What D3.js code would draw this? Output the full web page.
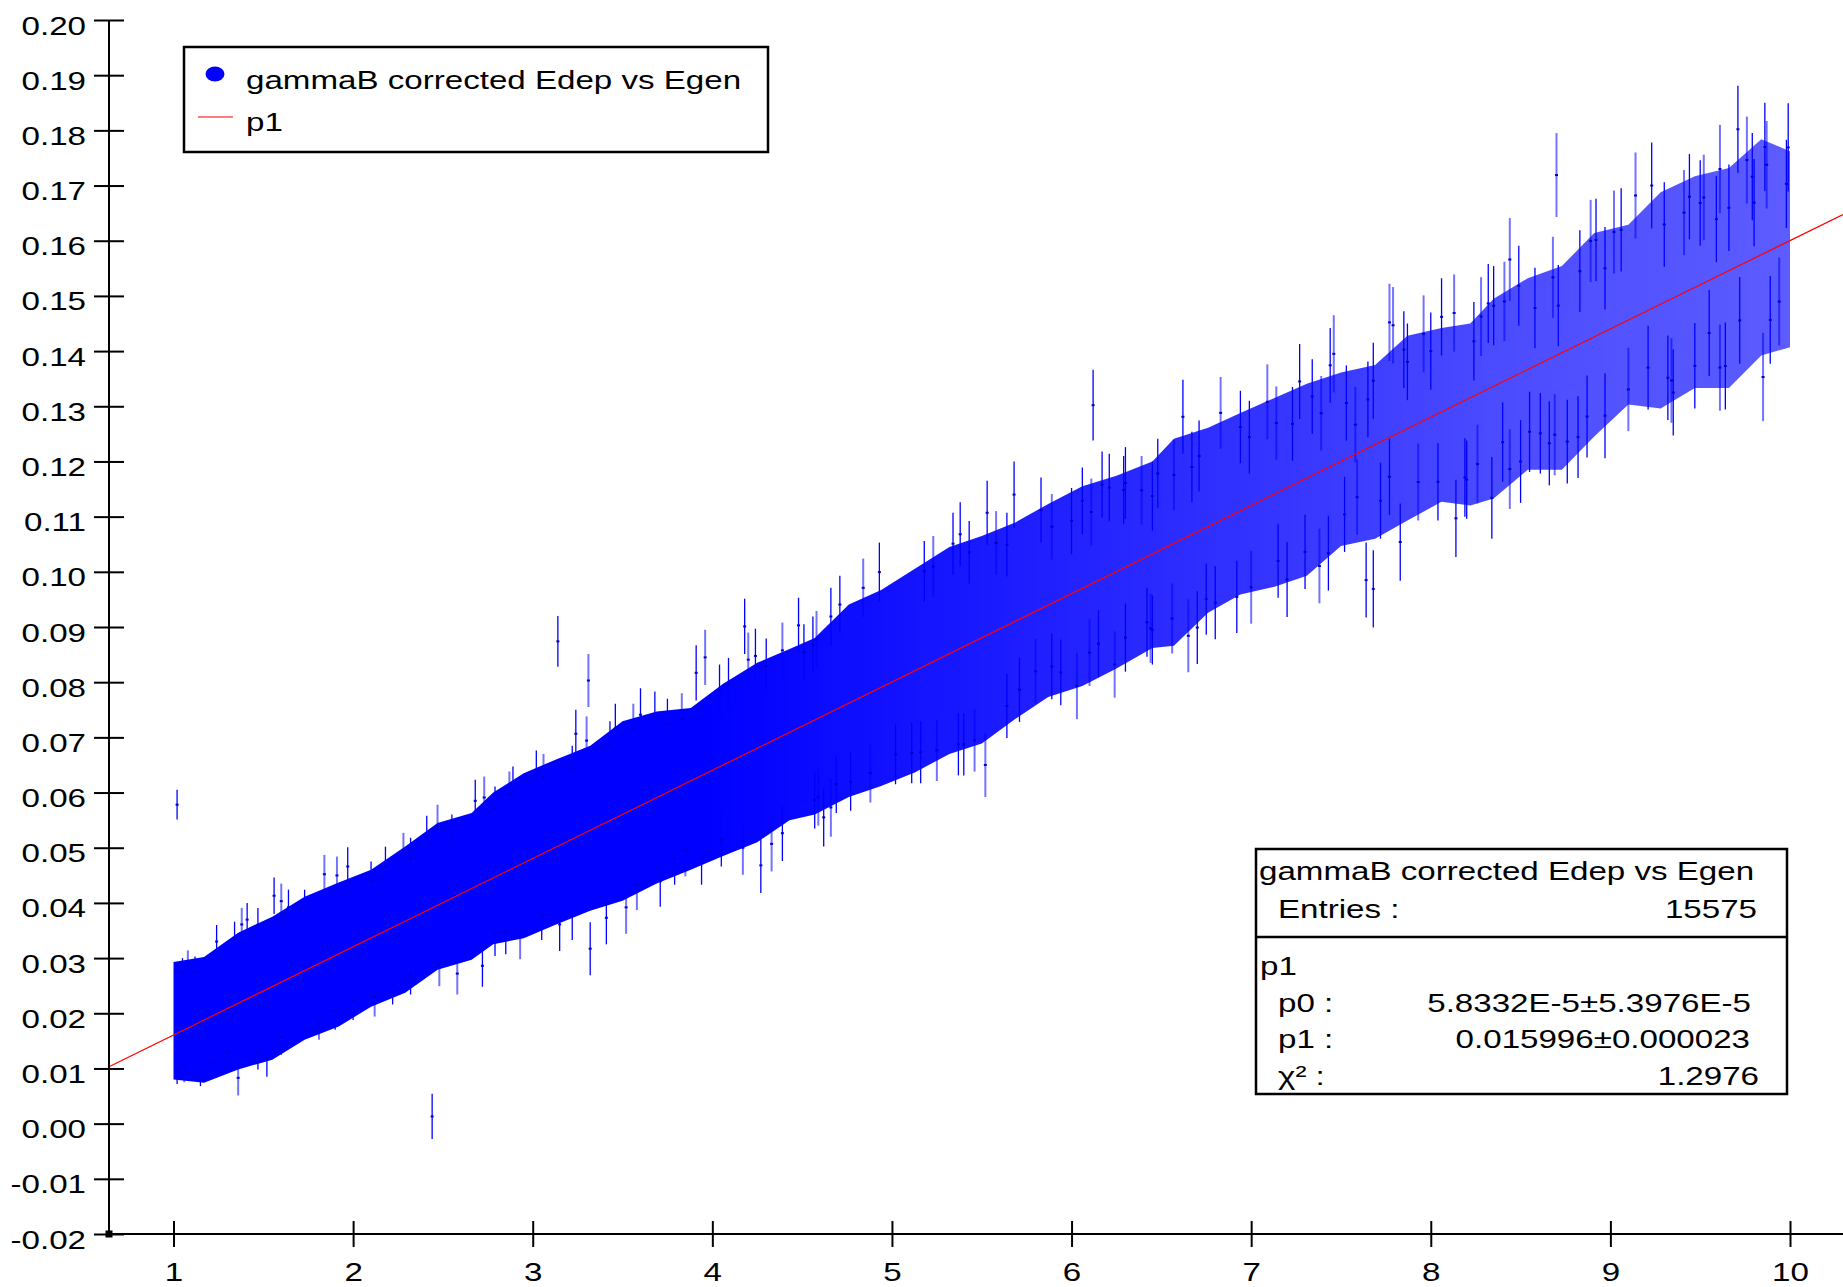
<!DOCTYPE html>
<html>
<head>
<meta charset="utf-8">
<script src="https://cdn.jsdelivr.net/npm/d3@7.9.0/dist/d3.min.js"></script>
<style>
  html, body { margin: 0; padding: 0; background: #fff; }
  svg text { font-family: "Liberation Sans", Arial, sans-serif; font-size: 26.5px; fill: #000; }
</style>
</head>
<body>
<svg id="plot" width="1843" height="1287"></svg>
<script>
// ---- data ----
// outline of the dense cloud of points (x, lower edge, upper edge)
const envX  = [1.00, 1.17, 1.36, 1.55, 1.73, 1.92, 2.10, 2.29, 2.47, 2.66,
               2.78, 2.95, 3.13, 3.32, 3.50, 3.69, 3.88, 4.06, 4.25, 4.43,
               4.57, 4.76, 4.94, 5.13, 5.32, 5.50, 5.69, 5.87, 6.06, 6.25,
               6.45, 6.57, 6.76, 6.94, 7.13, 7.31, 7.50, 7.69, 7.87, 8.06,
               8.22, 8.35, 8.54, 8.73, 8.91, 9.10, 9.28, 9.47, 9.66, 9.84, 10.00];
const envLo = [0.0080, 0.0074, 0.0098, 0.0116, 0.0152, 0.0176, 0.0212, 0.0237, 0.0279, 0.0297,
               0.0325, 0.0336, 0.0361, 0.0386, 0.0404, 0.0435, 0.0460, 0.0485, 0.0510, 0.0550,
               0.0560, 0.0592, 0.0612, 0.0637, 0.0670, 0.0689, 0.0734, 0.0773, 0.0793, 0.0825,
               0.0862, 0.0866, 0.0926, 0.0959, 0.0973, 0.0993, 0.1047, 0.1060, 0.1093, 0.1127,
               0.1120, 0.1133, 0.1185, 0.1185, 0.1245, 0.1303, 0.1296, 0.1333, 0.1333, 0.1392, 0.1407];
const envHi = [0.0293, 0.0302, 0.0346, 0.0375, 0.0411, 0.0437, 0.0460, 0.0502, 0.0545, 0.0563,
               0.0600, 0.0635, 0.0660, 0.0685, 0.0729, 0.0747, 0.0753, 0.0797, 0.0835, 0.0860,
               0.0880, 0.0941, 0.0967, 0.1006, 0.1045, 0.1065, 0.1090, 0.1123, 0.1155, 0.1174,
               0.1200, 0.1241, 0.1261, 0.1288, 0.1315, 0.1341, 0.1361, 0.1375, 0.1428, 0.1442,
               0.1450, 0.1495, 0.1532, 0.1554, 0.1614, 0.1629, 0.1688, 0.1717, 0.1732, 0.1784, 0.1762];

// typical half length of an error bar along x
const errX = [1, 2, 3, 4, 5, 6, 7, 8, 9, 10];
const errV = [0.0027, 0.0035, 0.0042, 0.0048, 0.0054, 0.0060, 0.0066, 0.0070, 0.0075, 0.0080];

// error bars poking out of the top of the cloud (x, top end)
const upX   = [1.05, 1.08, 1.12, 1.34, 1.38, 1.41, 1.47, 1.60, 1.64, 1.73, 1.91, 2.10, 2.18, 2.28, 2.32,
               2.41, 2.47, 2.55, 2.79, 2.87, 2.89, 3.02, 3.06, 3.22, 3.24, 3.30, 3.43, 3.46, 3.56, 3.68,
               3.75, 3.83, 4.04, 4.09, 4.20, 4.24, 4.30, 4.39, 4.51, 4.56, 4.58, 4.66, 4.71, 4.84, 4.93,
               5.18, 5.23, 5.34, 5.43, 5.58, 5.64, 5.83, 5.89, 6.00, 6.06, 6.11, 6.21, 6.29, 6.39, 6.45,
               6.48, 6.57, 6.67, 6.71, 6.83, 6.94, 6.99, 7.14, 7.23, 7.34, 7.39, 7.44, 7.53, 7.58, 7.65,
               7.68, 7.79, 7.85, 7.87, 7.96, 8.00, 8.24, 8.28, 8.32, 8.35, 8.41, 8.49, 8.58, 8.68, 8.71,
               8.83, 8.89, 8.92, 8.97, 9.02, 9.06, 9.30, 9.41, 9.44, 9.50, 9.52, 9.59, 9.66, 9.76, 9.79,
               9.80, 9.87, 9.98];
const upEnd = [0.0300, 0.0314, 0.0303, 0.0366, 0.0391, 0.0400, 0.0391, 0.0435, 0.0424, 0.0424, 0.0484, 0.0475, 0.0502, 0.0527, 0.0518,
               0.0558, 0.0578, 0.0560, 0.0611, 0.0638, 0.0647, 0.0676, 0.0670, 0.0685, 0.0750, 0.0738, 0.0729, 0.0761, 0.0761, 0.0783,
               0.0770, 0.0780, 0.0832, 0.0844, 0.0890, 0.0897, 0.0879, 0.0908, 0.0905, 0.0919, 0.0929, 0.0971, 0.0993, 0.1024, 0.1053,
               0.1056, 0.1065, 0.1107, 0.1092, 0.1110, 0.1107, 0.1171, 0.1141, 0.1152, 0.1189, 0.1169, 0.1214, 0.1210, 0.1210, 0.1200,
               0.1241, 0.1239, 0.1254, 0.1274, 0.1353, 0.1328, 0.1310, 0.1336, 0.1335, 0.1385, 0.1355, 0.1442, 0.1374, 0.1335, 0.1381,
               0.1415, 0.1516, 0.1472, 0.1450, 0.1501, 0.1470, 0.1489, 0.1534, 0.1558, 0.1554, 0.1562, 0.1591, 0.1551, 0.1607, 0.1556,
               0.1619, 0.1674, 0.1676, 0.1625, 0.1691, 0.1695, 0.1706, 0.1728, 0.1757, 0.1746, 0.1756, 0.1717, 0.1738, 0.1825, 0.1795,
               0.1748, 0.1817, 0.1783];

// error bars poking out of the bottom of the cloud (x, bottom end)
const downX   = [1.02, 1.06, 1.15, 1.23, 1.30, 1.47, 1.60, 1.81, 1.90, 2.00, 2.12, 2.22, 2.32, 2.48,
                 2.79, 2.85, 2.93, 3.05, 3.22, 3.58, 3.71, 3.79, 3.85, 3.94, 4.05, 4.17, 4.39, 4.57,
                 4.59, 4.69, 4.77, 4.88, 5.02, 5.11, 5.25, 5.37, 5.40, 5.46, 5.64, 5.71, 5.80, 5.89, 5.94,
                 6.10, 6.15, 6.30, 6.44, 6.42, 6.45, 6.56, 6.75, 6.92, 7.00, 7.15, 7.30, 7.38, 7.43, 7.52,
                 7.59, 7.72, 7.77, 7.93, 8.04, 8.19, 8.26, 8.20, 8.40, 8.44, 8.55, 8.61, 8.69, 8.82, 8.87,
                 9.10, 9.21, 9.32, 9.34, 9.47, 9.55, 9.61, 9.72, 9.89, 9.94];
const downEnd = [0.0072, 0.0075, 0.0068, 0.0083, 0.0101, 0.0098, 0.0125, 0.0152, 0.0170, 0.0188, 0.0194, 0.0216, 0.0234, 0.0249,
                 0.0304, 0.0307, 0.0298, 0.0333, 0.0333, 0.0387, 0.0393, 0.0433, 0.0448, 0.0433, 0.0466, 0.0451, 0.0476, 0.0535,
                 0.0540, 0.0563, 0.0567, 0.0582, 0.0615, 0.0617, 0.0621, 0.0631, 0.0631, 0.0638, 0.0699, 0.0728, 0.0761, 0.0769, 0.0758,
                 0.0793, 0.0809, 0.0819, 0.0835, 0.0846, 0.0832, 0.0852, 0.0886, 0.0889, 0.0906, 0.0953, 0.0969, 0.0943, 0.0966, 0.1036,
                 0.1067, 0.1060, 0.1103, 0.1093, 0.1093, 0.1100, 0.1124, 0.1096, 0.1163, 0.1114, 0.1181, 0.1178, 0.1175, 0.1170, 0.1207,
                 0.1255, 0.1294, 0.1275, 0.1270, 0.1296, 0.1355, 0.1292, 0.1377, 0.1377, 0.1410];

// single points far from the cloud (x, y, error)
const ptX   = [1.02, 1.24, 1.36, 1.52, 1.56, 1.84, 1.97, 2.44, 2.58, 2.68, 2.72, 2.73,
               3.14, 3.15, 3.31, 3.32, 3.41, 3.52, 3.60, 3.91, 3.96, 4.18, 4.27, 4.33, 4.48,
               4.62, 4.66, 5.16, 5.38, 5.52, 5.53, 5.68, 6.03, 6.12, 6.17, 6.24, 6.30,
               6.62, 6.65, 6.70, 6.80, 7.09, 7.20, 7.27, 7.46, 7.64, 7.68, 7.77, 7.83,
               8.06, 8.13, 8.14, 8.34, 8.44, 8.50, 8.66, 8.70, 8.76, 8.97, 9.14, 9.23,
               9.35, 9.61, 9.64, 9.71, 9.85, 9.86, 9.99];
const ptY   = [0.0578, 0.0330, 0.0083, 0.0118, 0.0413, 0.0452, 0.0466, 0.0013, 0.0272, 0.0585, 0.0286, 0.0591,
               0.0874, 0.0361, 0.0803, 0.0317, 0.0373, 0.0392, 0.0741, 0.0817, 0.0845, 0.0901, 0.0468, 0.0507, 0.0903,
               0.0555, 0.0573, 0.0673, 0.1068, 0.0650, 0.1107, 0.1140, 0.0793, 0.1302, 0.1158, 0.0832, 0.1161,
               0.1281, 0.0884, 0.0899, 0.0944, 0.1308, 0.0986, 0.1345, 0.1395, 0.0985, 0.0969, 0.1452, 0.1054,
               0.1462, 0.1469, 0.1097, 0.1134, 0.1566, 0.1200, 0.1233, 0.1719, 0.1236, 0.1283, 0.1682, 0.1700,
               0.1325, 0.1730, 0.1373, 0.1802, 0.1353, 0.1770, 0.1769];
const ptErr = [0.0027, 0.0030, 0.0032, 0.0033, 0.0033, 0.0035, 0.0035, 0.0041, 0.0038, 0.0038, 0.0038, 0.0038,
               0.0046, 0.0048, 0.0048, 0.0048, 0.0048, 0.0048, 0.0048, 0.0050, 0.0050, 0.0050, 0.0050, 0.0050, 0.0050,
               0.0053, 0.0053, 0.0056, 0.0058, 0.0058, 0.0058, 0.0060, 0.0060, 0.0064, 0.0060, 0.0060, 0.0065,
               0.0067, 0.0066, 0.0066, 0.0066, 0.0068, 0.0068, 0.0068, 0.0070, 0.0068, 0.0070, 0.0070, 0.0070,
               0.0070, 0.0070, 0.0070, 0.0074, 0.0075, 0.0075, 0.0076, 0.0076, 0.0076, 0.0077, 0.0078, 0.0078,
               0.0078, 0.0080, 0.0079, 0.0079, 0.0080, 0.0080, 0.0080];

// fit p1 : y = p0 + p1 * x
const fitP0 = 5.8332e-5;
const fitP1 = 0.015996;

const xTicks = [1, 2, 3, 4, 5, 6, 7, 8, 9, 10];
const yTicks = [0.20, 0.19, 0.18, 0.17, 0.16, 0.15, 0.14, 0.13, 0.12, 0.11, 0.10,
                0.09, 0.08, 0.07, 0.06, 0.05, 0.04, 0.03, 0.02, 0.01, 0.00, -0.01, -0.02];

const legendLabels = ["gammaB corrected Edep vs Egen", "p1"];
const statsTitle = "gammaB corrected Edep vs Egen";
const statsEntries = ["Entries :", "15575"];
const statsFitName = "p1";
const statsFitRows = [["p0 :", "5.8332E-5\u00b15.3976E-5"],
                      ["p1 :", "0.015996\u00b10.000023"],
                      ["\u03c7\u00b2 :", "1.2976"]];

// ---- drawing ----
const W = 1843, H = 1287;
const axisX = 109, axisY = 1234;
const stretch = 1.25;   // the text in the picture is drawn wide

const x = d3.scaleLinear().domain([1, 10]).range([173.5, 1790]);
const y = d3.scaleLinear().domain([-0.02, 0.20]).range([1234, 20]);
const errAt = d3.scaleLinear().domain(errX).range(errV);
const xMin = x.invert(axisX), xMax = x.invert(W);
const fmt2 = d3.format(".2f");

const svg = d3.select("#plot");
svg.append("rect").attr("width", W).attr("height", H).attr("fill", "#fff");

function wideText(g, str, px, py, anchor) {
  return g.append("text")
    .attr("transform", `translate(${px},${py}) scale(${stretch},1)`)
    .attr("text-anchor", anchor || "start")
    .text(str);
}

// the cloud gets thinner to the right
const defs = svg.append("defs");
const grad = defs.append("linearGradient")
  .attr("id", "cloudFade")
  .attr("gradientUnits", "userSpaceOnUse")
  .attr("x1", x(1)).attr("x2", x(10)).attr("y1", 0).attr("y2", 0);
[[0, 1], [0.33, 1], [0.5, 0.9], [0.67, 0.8], [0.83, 0.7], [1, 0.64]].forEach(([o, a]) => {
  grad.append("stop").attr("offset", o).attr("stop-color", "#0000ff").attr("stop-opacity", a);
});

const cloud = envX.map((d, i) => ({ x: d, lo: envLo[i], hi: envHi[i] }));
svg.append("path")
  .datum(cloud)
  .attr("d", d3.area().x(d => x(d.x)).y0(d => y(d.lo)).y1(d => y(d.hi)))
  .attr("fill", "url(#cloudFade)");

// all error bars as {x, y, e}
const pts = [];
upX.forEach((d, i) => { const e = errAt(d); pts.push({ x: d, y: upEnd[i] - e, e }); });
downX.forEach((d, i) => { const e = errAt(d); pts.push({ x: d, y: downEnd[i] + e, e }); });
ptX.forEach((d, i) => pts.push({ x: d, y: ptY[i], e: ptErr[i] }));

const bars = svg.append("g");
bars.selectAll("line")
  .data(pts)
  .join("line")
  .attr("x1", d => x(d.x)).attr("x2", d => x(d.x))
  .attr("y1", d => y(d.y - d.e)).attr("y2", d => y(d.y + d.e))
  .attr("stroke", "#0000ff")
  .attr("stroke-opacity", (d, i) => i % 3 === 1 ? 0.55 : 1)
  .attr("stroke-width", (d, i) => i % 3 === 1 ? 2 : 1.3);
bars.selectAll("rect")
  .data(pts)
  .join("rect")
  .attr("x", d => x(d.x) - 1.5).attr("y", d => y(d.y) - 1)
  .attr("width", 3).attr("height", 2)
  .attr("fill", "#0000cc");

// fitted line
svg.append("path")
  .datum([xMin, xMax])
  .attr("d", d3.line().x(d => x(d)).y(d => y(fitP0 + fitP1 * d)))
  .attr("stroke", "#ff0000")
  .attr("stroke-width", 1.2)
  .attr("fill", "none");

// y axis
const yAxis = svg.append("g")
  .attr("transform", `translate(${axisX},0)`)
  .call(d3.axisLeft(y).tickValues(yTicks).tickFormat(d => fmt2(d).replace("\u2212", "-")).tickSizeOuter(0));
yAxis.select(".domain").remove();
yAxis.selectAll(".tick line").attr("x1", -15).attr("x2", 15).attr("stroke", "#000").attr("stroke-width", 2);
yAxis.selectAll(".tick text")
  .attr("x", null).attr("dy", null)
  .attr("text-anchor", "end")
  .attr("transform", `translate(-23,14) scale(${stretch},1)`);

// x axis
const xAxis = svg.append("g")
  .attr("transform", `translate(0,${axisY})`)
  .call(d3.axisBottom(x).tickValues(xTicks).tickFormat(d3.format("d")).tickSizeOuter(0));
xAxis.select(".domain").remove();
xAxis.selectAll(".tick line").attr("y1", -13).attr("y2", 13).attr("stroke", "#000").attr("stroke-width", 2);
xAxis.selectAll(".tick text")
  .attr("y", null).attr("dy", null)
  .attr("text-anchor", "middle")
  .attr("transform", `translate(0,47) scale(${stretch},1)`);

svg.append("line")
  .attr("x1", axisX).attr("x2", axisX).attr("y1", y(0.20)).attr("y2", axisY)
  .attr("stroke", "#000").attr("stroke-width", 2);
svg.append("line")
  .attr("x1", axisX).attr("x2", W).attr("y1", axisY).attr("y2", axisY)
  .attr("stroke", "#000").attr("stroke-width", 2);
svg.append("rect")
  .attr("x", axisX - 3.5).attr("y", axisY - 3.5).attr("width", 7).attr("height", 7).attr("fill", "#000");

// legend
const leg = svg.append("g");
leg.append("rect")
  .attr("x", 184).attr("y", 47).attr("width", 584).attr("height", 105)
  .attr("fill", "#fff").attr("stroke", "#000").attr("stroke-width", 2.5);
leg.append("ellipse").attr("cx", 215).attr("cy", 74).attr("rx", 9.5).attr("ry", 7.5).attr("fill", "#0000ff");
wideText(leg, legendLabels[0], 246, 89);
leg.append("line").attr("x1", 198).attr("x2", 233).attr("y1", 117).attr("y2", 117)
  .attr("stroke", "#ff0000").attr("stroke-width", 1.2);
wideText(leg, legendLabels[1], 246, 131);

// statistics box
const st = svg.append("g");
st.append("rect")
  .attr("x", 1256).attr("y", 849).attr("width", 531).attr("height", 245)
  .attr("fill", "#fff").attr("stroke", "#000").attr("stroke-width", 2.5);
st.append("line").attr("x1", 1256).attr("x2", 1787).attr("y1", 937).attr("y2", 937)
  .attr("stroke", "#000").attr("stroke-width", 2.5);
wideText(st, statsTitle, 1259, 880);
wideText(st, statsEntries[0], 1278, 918);
wideText(st, statsEntries[1], 1757, 918, "end");
wideText(st, statsFitName, 1260, 975);
const rowY = [1012, 1048, 1085];
const rowEnd = [1751, 1750, 1759];
statsFitRows.forEach((r, i) => {
  wideText(st, r[0], 1278, rowY[i]);
  wideText(st, r[1], rowEnd[i], rowY[i], "end");
});
</script>
</body>
</html>
